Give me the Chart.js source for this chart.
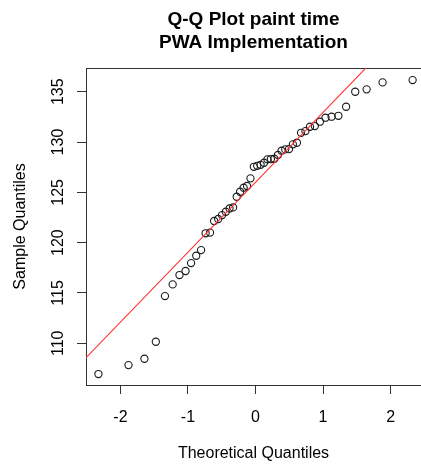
<!DOCTYPE html>
<html>
<head>
<meta charset="utf-8">
<script src="https://cdn.jsdelivr.net/npm/chart.js@4.4.1/dist/chart.umd.min.js"></script>
<style>
  html, body { margin: 0; padding: 0; background: #fff; overflow: hidden; }
  #wrap { width: 421px; height: 468px; }
</style>
</head>
<body>
<div id="wrap"><canvas id="qq"></canvas></div>
<script>
// theoretical normal quantiles (n = 50)
const theoretical = [
  -2.326, -1.881, -1.645, -1.476, -1.341, -1.227, -1.126, -1.036, -0.954, -0.878,
  -0.806, -0.739, -0.674, -0.613, -0.553, -0.496, -0.440, -0.385, -0.332, -0.279,
  -0.228, -0.176, -0.126, -0.075, -0.025, 0.025, 0.075, 0.126, 0.176, 0.228,
  0.279, 0.332, 0.385, 0.440, 0.496, 0.553, 0.613, 0.674, 0.739, 0.806,
  0.878, 0.954, 1.036, 1.126, 1.227, 1.341, 1.476, 1.645, 1.881, 2.326
];

// sorted paint times
const sample = [
  106.94, 107.83, 108.46, 110.15, 114.69, 115.85, 116.78, 117.18, 117.97, 118.70,
  119.26, 120.93, 121.00, 122.15, 122.35, 122.74, 123.07, 123.40, 123.50, 124.56,
  125.06, 125.46, 125.63, 126.39, 127.54, 127.64, 127.74, 127.94, 128.28, 128.31,
  128.34, 128.71, 129.14, 129.27, 129.30, 129.77, 129.93, 130.92, 131.09, 131.52,
  131.59, 132.02, 132.42, 132.52, 132.61, 133.51, 135.00, 135.24, 135.93, 136.16
];

// reference line through the quartiles
const lineX = [-2.6, 2.6];
const lineY = [107.93, 144.07];

const xTicks = [-2, -1, 0, 1, 2];
const yTicks = [110, 115, 120, 125, 130, 135];

const font = "'Liberation Sans', Arial, Helvetica, sans-serif";
const ink = '#333';

const points = theoretical.map((x, i) => ({ x: x, y: sample[i] }));
const qqline = lineX.map((x, i) => ({ x: x, y: lineY[i] }));

new Chart(document.getElementById('qq'), {
  type: 'scatter',
  data: {
    datasets: [
      {
        type: 'line',
        data: qqline,
        borderColor: '#ff3030',
        borderWidth: 1.1,
        pointRadius: 0,
        fill: false
      },
      {
        data: points,
        pointStyle: 'circle',
        pointRadius: 3.6,
        pointBorderWidth: 1.1,
        pointBorderColor: '#1a1a1a',
        pointBackgroundColor: 'rgba(0,0,0,0)'
      }
    ]
  },
  options: {
    responsive: true,
    maintainAspectRatio: false,
    animation: false,
    layout: { padding: 0, autoPadding: false },
    plugins: {
      legend: { display: false },
      tooltip: { enabled: false },
      title: {
        display: true,
        fullSize: false,
        text: ['Q-Q Plot paint time', 'PWA Implementation'],
        color: '#000',
        font: { family: font, size: 19, weight: 'bold', lineHeight: 1.2 },
        padding: { top: 8.6, bottom: 13.8 }
      }
    },
    scales: {
      x: {
        type: 'linear',
        position: 'bottom',
        min: -2.51,
        max: 2.45,
        afterFit: s => { s.height = 83; },
        afterBuildTicks: s => { s.ticks = xTicks.map(v => ({ value: v })); },
        ticks: { color: '#000', font: { family: font, size: 16 }, padding: 14, maxRotation: 0 },
        grid: { drawOnChartArea: false, drawTicks: true, tickLength: 9, color: ink },
        border: { display: true, color: ink, width: 1 },
        title: {
          display: true,
          text: 'Theoretical Quantiles',
          color: '#000',
          font: { family: font, size: 16 },
          padding: { top: 0, bottom: 4.6 }
        }
      },
      // top edge of the plot frame
      xTop: {
        type: 'linear',
        position: 'top',
        min: -2.51,
        max: 2.45,
        ticks: { display: false },
        grid: { display: false, drawTicks: false },
        border: { display: true, color: ink, width: 1 }
      },
      y: {
        type: 'linear',
        position: 'left',
        min: 105.85,
        max: 137.36,
        afterFit: s => { s.width = 86; },
        afterBuildTicks: s => { s.ticks = yTicks.map(v => ({ value: v })); },
        ticks: {
          color: '#000',
          font: { family: font, size: 16 },
          padding: 5,
          minRotation: 90,
          maxRotation: 90,
          crossAlign: 'center'
        },
        grid: { drawOnChartArea: false, drawTicks: true, tickLength: 9, color: ink },
        border: { display: true, color: ink, width: 1 },
        title: {
          display: true,
          text: 'Sample Quantiles',
          color: '#000',
          font: { family: font, size: 16 },
          padding: { top: 11, bottom: 0 }
        }
      }
    }
  }
});
</script>
</body>
</html>
